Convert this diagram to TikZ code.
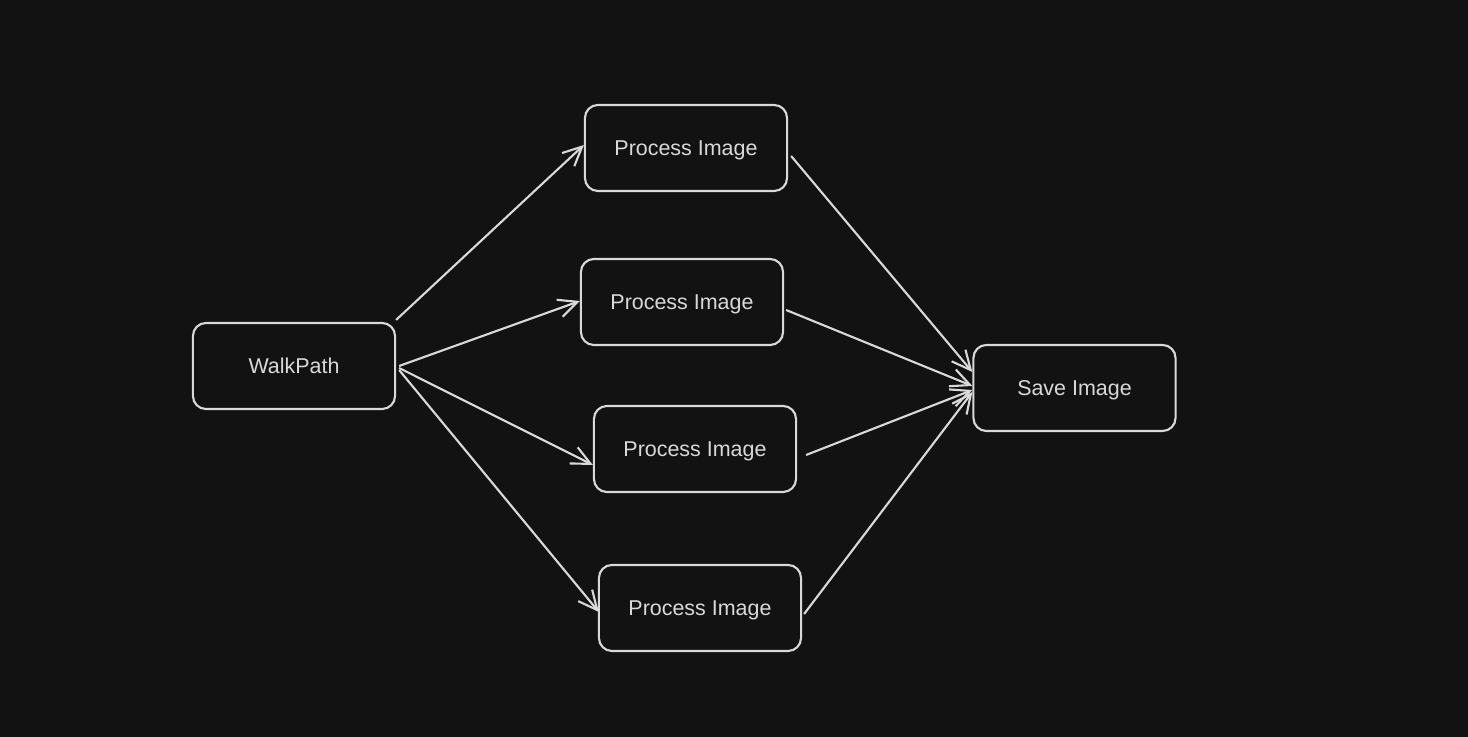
\documentclass[tikz,border=0pt]{standalone}
\usepackage{fontspec}
\setmainfont{Liberation Sans}
\usetikzlibrary{arrows.meta,calc}
\definecolor{bg}{HTML}{121212}
\definecolor{ink}{HTML}{D9D9D9}
\begin{document}
\begin{tikzpicture}[x=0.01cm,y=-0.01cm,
  box/.style={draw=ink,line width=0.6pt,rounded corners=0.13cm,minimum width=2.02cm,minimum height=0.86cm,inner sep=0pt,text height=4.4pt,text depth=0pt,text=ink,font=\fontsize{6.1}{7}\selectfont},
  conn/.style={draw=ink,line width=0.6pt,-{Straight Barb[length=0.19cm,width=0.18cm,line width=0.6pt]}}]
\fill[bg] (0,0) rectangle (1468,737);
\useasboundingbox (0,0) rectangle (1468,737);
\node[box] (wp) at (294,366) {WalkPath};
\node[box] (p1) at (686,148) {Process Image};
\node[box] (p2) at (682,302) {Process Image};
\node[box] (p3) at (695,449) {Process Image};
\node[box] (p4) at (700,608) {Process Image};
\node[box] (sv) at (1074.5,388) {Save Image};
\draw[conn] ($(wp.north east)+(0,-2)$) -- ($(p1.west)+(0,-3)$);
\draw[conn] ($(wp.east)+(3,0)$) -- ($(p2.west)+(0,-1)$);
\draw[conn] ($(wp.east)+(3,2)$) -- ($(p3.west)+(0,16)$);
\draw[conn] ($(wp.east)+(3,4)$) -- ($(p4.west)+(1,4)$);
\draw[conn] ($(p1.east)+(3,8)$) -- ($(sv.west)+(0,-16)$);
\draw[conn] ($(p2.east)+(2,8)$) -- ($(sv.west)+(0,-2)$);
\draw[conn] ($(p3.east)+(9,6)$) -- ($(sv.west)+(0,2)$);
\draw[conn] ($(p4.east)+(2,6)$) -- ($(sv.west)+(0,4)$);
\end{tikzpicture}
\end{document}
